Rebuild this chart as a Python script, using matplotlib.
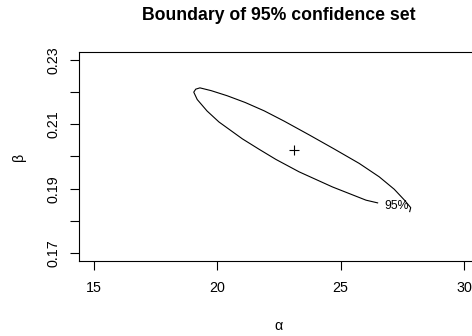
import matplotlib
matplotlib.use("Agg")
import matplotlib.pyplot as plt
import numpy as np

plt.rcParams['font.family'] = ['Liberation Sans', 'DejaVu Sans']

# boundary of the 95% set (alpha, beta)
# path starts right of the lower edge (at the label gap) and goes round
alpha = [26.50, 26.03, 24.67, 23.32, 22.38, 21.70, 21.02, 20.07, 19.59, 19.19, 19.05,
         19.13, 19.30, 19.755, 20.403, 21.133, 21.903, 22.714, 23.727, 24.741,
         25.754, 26.565, 27.173, 27.578, 27.841, 27.80]
beta = [0.18562, 0.18646, 0.19056, 0.19524, 0.19909, 0.20223, 0.20547, 0.21071,
        0.21410, 0.21767, 0.21995, 0.22088, 0.22128, 0.22042, 0.21884, 0.21675,
        0.21416, 0.21096, 0.20670, 0.20233, 0.19786, 0.19370, 0.18985, 0.18655,
        0.18414, 0.18291]

# estimate (centre of the set)
alpha_hat = 23.12
beta_hat = 0.2020

# contour label
label_text = '95%'
label_pos = (27.27, 0.18461)

xticks = [15, 20, 25, 30]
yticks = [0.17, 0.18, 0.19, 0.20, 0.21, 0.22, 0.23]
ytick_labels = ['0.17', '', '0.19', '', '0.21', '', '0.23']

fig = plt.figure(figsize=(4.72, 3.36), dpi=100)
ax = fig.add_axes([79 / 472, 1 - 261 / 336, 399.8 / 472, 209 / 336])

ax.plot(alpha, beta, color='black', lw=0.8)
ax.plot([alpha_hat], [beta_hat], marker='+', color='black', ms=7, mew=0.8, ls='none')
ax.text(label_pos[0], label_pos[1], label_text, fontsize=8.8, ha='center', va='center')

ax.set_xlim(14.4, 30.6)
ax.set_ylim(0.1676, 0.2324)
ax.set_xticks(xticks)
ax.set_xticklabels([str(t) for t in xticks])
ax.set_yticks(yticks)
ax.set_yticklabels(ytick_labels, rotation=90, va='center')
ax.tick_params(axis='both', direction='out', length=6.5, width=0.8, labelsize=10.3)
ax.tick_params(axis='x', pad=8)
ax.tick_params(axis='y', pad=6.5)

for s in ax.spines.values():
    s.set_linewidth(0.8)

ax.set_xlabel('α', fontsize=10.3)
ax.xaxis.set_label_coords(0.5, -0.3325)
ax.xaxis.label.set_va('baseline')
ax.set_ylabel('β', fontsize=10.3)
ax.yaxis.set_label_coords(-0.150, 0.5)
ax.yaxis.label.set_va('center')

fig.text(279 / 472, 1 - 15 / 336, 'Boundary of 95% confidence set', fontsize=12.7,
         fontweight='bold', ha='center', va='center')

fig.savefig('out.png', dpi=100)
